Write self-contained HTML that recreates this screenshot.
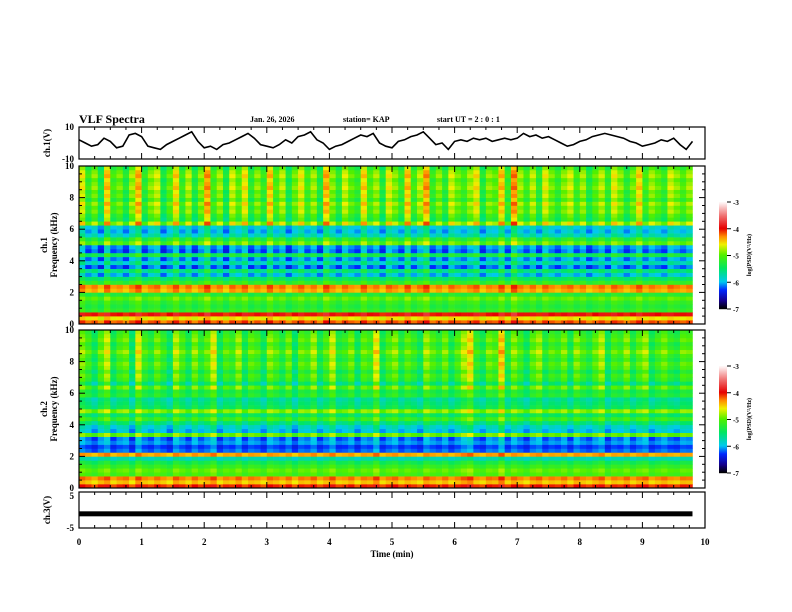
<!DOCTYPE html>
<html><head><meta charset="utf-8"><style>
body{margin:0;background:#fff;}
svg{display:block;font-family:"Liberation Serif",serif;font-weight:bold;}
</style></head><body>
<svg id="c" width="792" height="612" viewBox="0 0 792 612">
<text x="79" y="123" font-size="12">VLF Spectra</text>
<text x="250" y="122" font-size="8">Jan. 26, 2026</text>
<text x="343" y="122" font-size="8">station= KAP</text>
<text x="437" y="122" font-size="8">start  UT =  2 : 0  : 1</text>
<g id="g"></g>
</svg>
<script>
const timeTicks=[0,1,2,3,4,5,6,7,8,9,10];
const freqTicks=[0,2,4,6,8,10];
const cbTicks=[-3,-4,-5,-6,-7];
const wave=[2,0,-2,-1,3,1,-3,-2,5,6,4,-2,-3,-4,-1,1,3,5,7,1,-3,-2,-4,-1,0,2,4,6,3,-1,-2,-3,-1,2,0,4,5,7,2,0,-4,-2,-1,1,3,5,4,6,0,-2,-3,1,2,4,5,7,3,-1,0,-4,1,2,1,3,2,3,1,2,3,2,3,6,4,5,3,4,2,0,-2,-1,1,2,4,5,6,5,4,3,1,0,-2,-1,0,2,1,3,-1,-4,1];
const ch3=[-1.2];
const prof1=[-4.2,-4.6,-4.0,-5.2,-5.3,-5.2,-5.0,-5.3,-4.4,-4.3,-5.2,-5.5,-6.0,-5.6,-6.2,-5.8,-6.1,-5.4,-6.2,-6.1,-5.0,-5.3,-5.8,-6.0,-5.9,-4.8,-5.3,-5.2,-5.0,-5.1,-4.9,-5.2,-5.0,-5.1,-4.9,-5.0,-5.1,-4.9,-5.0,-5.2];
const prof2=[-4.1,-4.5,-4.3,-5.1,-5.0,-5.2,-5.4,-5.8,-4.4,-6.2,-6.3,-6.1,-6.2,-5.0,-6.0,-5.9,-5.6,-5.2,-5.5,-4.9,-5.5,-5.6,-5.7,-5.3,-5.4,-5.1,-5.6,-5.3,-5.2,-5.4,-5.2,-5.1,-5.3,-5.2,-5.0,-5.2,-5.3,-5.1,-5.2,-5.3];
const act1=[0.6,-0.3,0.2,-0.6,0.9,-0.2,0.1,-0.5,0.3,1.0,-0.4,0.2,0.5,-0.6,0.0,0.8,-0.3,0.4,-0.5,0.2,1.1,-0.2,0.3,-0.6,0.5,0.0,0.7,-0.4,0.2,-0.3,0.9,-0.1,0.4,-0.6,0.1,0.6,-0.2,0.3,-0.5,1.0,0.2,-0.4,0.5,0.0,-0.3,0.8,-0.1,0.3,-0.5,0.6,0.2,-0.3,0.9,-0.2,0.4,1.1,-0.3,0.2,-0.4,0.5,0.1,-0.2,0.3,0.7,-0.5,0.2,0.0,0.9,-0.3,1.2,0.3,-0.2,0.4,-0.4,0.6,0.1,-0.3,0.2,0.5,-0.2,0.3,-0.5,0.0,0.4,-0.3,0.6,0.2,-0.4,0.1,0.8,-0.2,0.3,0.0,-0.3,0.5,0.2,-0.1,0.3];
const act2=[0.5,0.1,-0.4,0.3,0.8,-0.3,0.2,0.4,-0.5,0.9,0.1,-0.2,0.4,0.0,-0.5,0.7,0.2,-0.3,0.5,-0.1,0.3,0.9,-0.4,0.2,0.0,0.6,-0.3,0.3,0.1,-0.4,0.5,0.2,-0.2,0.4,-0.5,0.3,0.1,0.6,-0.3,0.2,0.8,-0.2,0.0,0.4,-0.4,0.3,0.1,1.0,-0.3,0.2,0.5,-0.2,0.3,0.0,-0.4,0.6,0.2,-0.1,0.4,-0.3,0.2,0.7,1.1,0.0,-0.3,0.4,0.2,1.2,-0.2,0.5,0.1,-0.4,0.3,0.6,-0.2,0.2,0.0,0.4,-0.3,0.5,0.1,-0.2,0.3,0.7,-0.4,0.2,0.0,0.5,-0.2,0.3,0.6,-0.3,0.1,0.4,0.0,-0.2,0.3,0.2];
const NS='http://www.w3.org/2000/svg';
const g=document.getElementById('g');
function el(t,a,p){const e=document.createElementNS(NS,t);for(const k in a)e.setAttribute(k,a[k]);(p||g).appendChild(e);return e;}
const X0=79,X1=705;
const xs=t=>X0+(X1-X0)*t/10;
function cmap(v){
 const st=[[-7,[0,0,0]],[-6.7,[20,0,140]],[-6.3,[0,40,255]],[-6.0,[0,200,240]],[-5.5,[0,230,100]],[-5.0,[80,240,0]],[-4.6,[240,240,0]],[-4.3,[255,140,0]],[-4.0,[230,0,0]],[-3.5,[240,120,120]],[-3,[255,255,255]]];
 if(v<=-7)return 'rgb(0,0,0)';if(v>=-3)return 'rgb(255,255,255)';
 for(let i=0;i<st.length-1;i++){const a=st[i],b=st[i+1];if(v>=a[0]&&v<=b[0]){const f=(v-a[0])/(b[0]-a[0]);const c=a[1].map((x,j)=>Math.round(x+(b[1][j]-x)*f));return `rgb(${c})`;}}
}
function ticksX(top,bot,labels){
 for(let t=0;t<=10;t+=0.25){const x=xs(t),major=Math.abs(t-Math.round(t))<1e-6,L=major?6:3;
  const a=el('line',{x1:x,x2:x,y1:bot,y2:bot-L,stroke:'#000','stroke-width':1});
  const b=el('line',{x1:x,x2:x,y1:top,y2:top+L,stroke:'#000','stroke-width':1});}
 if(labels)timeTicks.forEach(t=>{const e=el('text',{x:xs(t),y:bot+17,'font-size':9,'text-anchor':'middle'});e.textContent=t;});
}
function frame(top,bot,name){const r=el('rect',{x:X0,y:top,width:X1-X0,height:bot-top,fill:'none',stroke:'#000','stroke-width':1.2});}
function ylab(x,y,txt,name,fs){const e=el('text',{x:x,y:y,'font-size':fs||9,'text-anchor':'middle',transform:`rotate(-90 ${x} ${y})`});e.textContent=txt;}
function ytxt(y,txt,name){const e=el('text',{x:X0-5,y:y+3,'font-size':9,'text-anchor':'end'});e.textContent=txt;}
// panel 1 waveform
const P1T=127,P1B=159;const y1=v=>P1B-(v+10)/20*(P1B-P1T);
let d='';wave.forEach((v,i)=>{d+=(i?'L':'M')+xs(i*0.1).toFixed(1)+','+y1(v).toFixed(1);});
const w=el('path',{d:d,fill:'none',stroke:'#000','stroke-width':1.6});
frame(P1T,P1B,'ch1-panel');ticksX(P1T,P1B,false);
ytxt(P1T,'10','ch1-y-max');ytxt(P1B,'-10','ch1-y-min');ylab(50,143,'ch.1(V)','ch1-y-title');
// spectrograms
function spec(top,bot,prof,act,nm,cbTop){
 const rows=prof.length,cols=act.length,rh=(bot-top)/rows,cw=(xs(9.8)-X0)/cols;
 const grp=el('g',{});
 for(let c=0;c<cols;c++)for(let r=0;r<rows;r++){
  const k=r>24?0.6:(r>11?0.35:0.2);const v=prof[r]+act[c]*k;
  const e=el('rect',{x:(X0+c*cw).toFixed(2),y:(bot-(r+1)*rh).toFixed(2),width:(cw+0.3).toFixed(2),height:(rh+0.3).toFixed(2),fill:cmap(v)},grp);
  }
 frame(top,bot,nm+'-panel');ticksX(top,bot,false);
 for(let f=0;f<=10;f+=0.5){const y=bot-(bot-top)*f/10,L=f%2===0?6:3;
  const a=el('line',{x1:X0,x2:X0+L,y1:y,y2:y,stroke:'#000'});
  const b=el('line',{x1:X1,x2:X1-L,y1:y,y2:y,stroke:'#000'});}
 freqTicks.forEach(f=>ytxt(bot-(bot-top)*f/10,String(f),'freq-tick-label'));
 const ym=(top+bot)/2;ylab(47,ym,nm.replace('ch','ch.'),nm+'-y-title');ylab(57,ym,'Frequency (kHz)',nm+'-freq-title');
 const cbB=cbTop+107,cx=719;
 for(let i=0;i<107;i++){const v=-7+4*i/107;const e=el('rect',{x:cx,y:cbB-i-1,width:8,height:1.2,fill:cmap(v)});}
 cbTicks.forEach(v=>{const y=cbB-(v+7)/4*107;const l=el('line',{x1:cx+8,x2:cx+12,y1:y,y2:y,stroke:'#000'});
  const t=el('text',{x:cx+14,y:y+3,'font-size':7});t.textContent=v;});
 ylab(751,cbTop+53,'log(PSD)(V²/Hz)',nm+'-colorbar-title',6);
}
spec(166,324,prof1,act1,'ch1',202);
spec(330,488,prof2,act2,'ch2',366);
// panel 3
const P3T=492,P3B=528;const y3=v=>P3B-(v+5)/10*(P3B-P3T);
const bar=el('rect',{x:X0,y:y3(ch3[0])-3,width:xs(9.8)-X0,height:5,fill:'#000'});
frame(P3T,P3B,'ch3-panel');ticksX(P3T,P3B,true);
ytxt(y3(5)+4,'5','ch3-y-max');ytxt(y3(-5),'-5','ch3-y-min');ylab(50,510,'ch.3(V)','ch3-y-title');
const xt=el('text',{x:392,y:557,'font-size':9,'text-anchor':'middle'});xt.textContent='Time  (min)';
</script>
</body></html>
